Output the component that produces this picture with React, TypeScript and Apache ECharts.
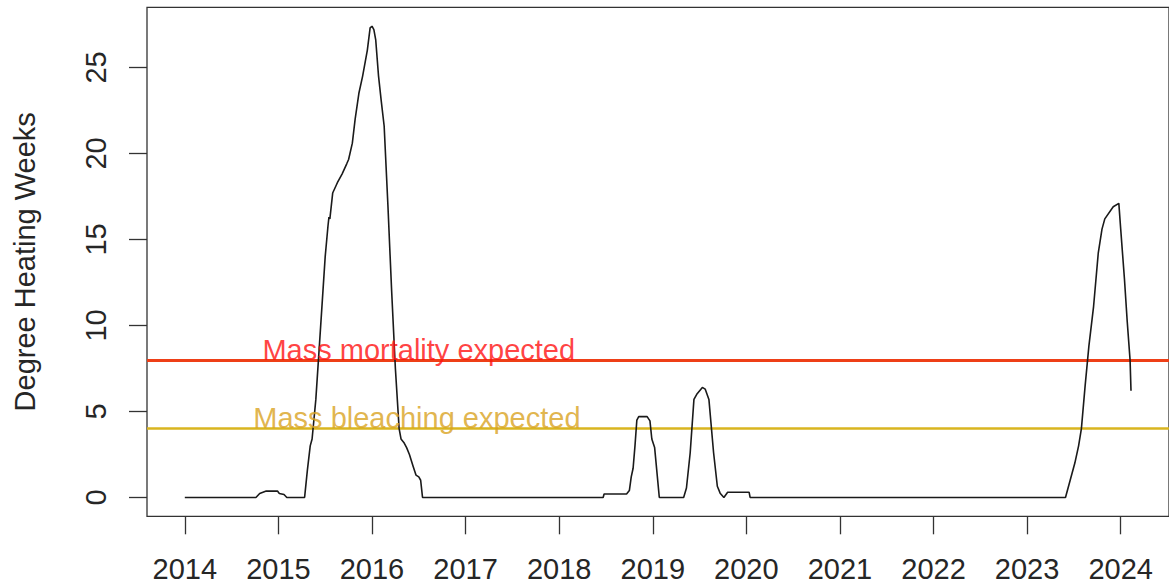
import React, { useEffect, useRef } from "react";
import * as echarts from "echarts";

const dhwYears = [
  2014.0, 2014.76, 2014.8, 2014.87, 2014.99, 2015.01, 2015.06, 2015.09, 2015.28, 2015.31,
  2015.34, 2015.36, 2015.4, 2015.44, 2015.47, 2015.5, 2015.53, 2015.54, 2015.55, 2015.58,
  2015.63, 2015.68, 2015.73, 2015.75, 2015.79, 2015.82, 2015.86, 2015.9, 2015.95, 2015.98,
  2016.0, 2016.02, 2016.04, 2016.07, 2016.1, 2016.13, 2016.17, 2016.21, 2016.25, 2016.29,
  2016.31, 2016.34, 2016.37, 2016.4, 2016.44, 2016.47, 2016.5, 2016.52, 2016.54, 2018.47,
  2018.48, 2018.72, 2018.75, 2018.77, 2018.79, 2018.81, 2018.83, 2018.85, 2018.94, 2018.97,
  2018.99, 2019.02, 2019.07, 2019.33, 2019.36, 2019.4, 2019.44, 2019.47, 2019.53, 2019.56,
  2019.6, 2019.65, 2019.69, 2019.72, 2019.76, 2019.8, 2020.03, 2020.04, 2023.41, 2023.46,
  2023.51, 2023.55, 2023.58, 2023.62, 2023.66, 2023.71, 2023.76, 2023.8, 2023.83, 2023.92,
  2023.98, 2024.0, 2024.04, 2024.07, 2024.1, 2024.11,
];
const dhwValues = [
  0, 0, 0.23, 0.37, 0.37, 0.23, 0.17, 0, 0, 1.6,
  3.0, 3.4, 5.7, 9.0, 11.5, 14.0, 15.8, 16.3, 16.2, 17.7,
  18.3, 18.8, 19.4, 19.65, 20.6, 22.0, 23.5, 24.5, 26.0, 27.3,
  27.4, 27.2, 26.6, 24.5, 23.0, 21.6, 17.0, 12.0, 7.5, 4.0,
  3.4, 3.2, 2.9, 2.5, 1.8, 1.3, 1.2, 1.0, 0, 0,
  0.2, 0.2, 0.4, 1.2, 1.7, 3.0, 4.5, 4.7, 4.7, 4.45,
  3.4, 2.9, 0, 0, 0.55, 2.6, 5.7, 6.0, 6.4, 6.3,
  5.7, 2.6, 0.65, 0.25, 0, 0.3, 0.3, 0, 0, 1.0,
  2.0, 3.0, 4.0, 6.5, 8.8, 11.1, 14.2, 15.6, 16.2, 16.9,
  17.1, 15.6, 12.7, 10.2, 8.0, 6.2,
];

const xTickYears = [2014, 2015, 2016, 2017, 2018, 2019, 2020, 2021, 2022, 2023, 2024];
const yTickValues = [0, 5, 10, 15, 20, 25];

const mortalityThreshold = 8;
const bleachingThreshold = 4;

const annotationX = [2016.5, 2016.48];
const annotationY = [8.58, 4.62];
const annotationText = ["Mass mortality expected", "Mass bleaching expected"];
const annotationColors = ["#ff1010", "#d9a21e"];

const FONT = "'Liberation Sans', Arial, Helvetica, sans-serif";

export default function App() {
  const ref = useRef<HTMLDivElement>(null);

  useEffect(() => {
    if (!ref.current) return;
    const chart = echarts.init(ref.current, undefined, { renderer: "svg" });

    const lineData = dhwYears.map((x, i) => [x, dhwValues[i]]);
    const annData = annotationX.map((x, i) => ({
      value: [x, annotationY[i]],
      label: {
        show: true,
        position: "inside",
        formatter: annotationText[i],
        color: annotationColors[i],
        fontSize: 29,
        fontFamily: FONT,
        align: "center",
        verticalAlign: "middle",
      },
    }));

    chart.setOption({
      animation: false,
      backgroundColor: "#ffffff",
      grid: {
        left: 147,
        top: 7.3,
        bottom: 71.7,
        right: -5.6,
        show: true,
        borderColor: "#333333",
        borderWidth: 1.3,
        backgroundColor: "transparent",
        containLabel: false,
      },
      xAxis: {
        type: "value",
        min: 2013.596,
        max: 2024.516,
        splitLine: { show: false },
        axisLine: { show: false, onZero: false },
        axisTick: {
          show: true,
          inside: false,
          length: 18,
          customValues: xTickYears,
          lineStyle: { color: "#333333", width: 1.3 },
        },
        axisLabel: {
          customValues: xTickYears,
          margin: 38,
          fontSize: 29,
          fontFamily: FONT,
          color: "#262626",
          formatter: (v: number) => String(Math.round(v)),
        },
      },
      yAxis: {
        type: "value",
        min: -1.096,
        max: 28.5,
        name: "Degree Heating Weeks",
        nameLocation: "middle",
        nameRotate: 90,
        nameGap: 108,
        nameTextStyle: { fontSize: 29, fontFamily: FONT, color: "#262626" },
        splitLine: { show: false },
        axisLine: { show: false, onZero: false },
        axisTick: {
          show: true,
          inside: false,
          length: 18,
          customValues: yTickValues,
          lineStyle: { color: "#333333", width: 1.3 },
        },
        axisLabel: {
          customValues: yTickValues,
          rotate: 90,
          margin: 37,
          fontSize: 29,
          fontFamily: FONT,
          color: "#262626",
          formatter: (v: number) => String(Math.round(v)),
        },
      },
      series: [
        {
          type: "line",
          data: lineData,
          showSymbol: false,
          symbol: "none",
          lineStyle: { color: "#1a1a1a", width: 1.6 },
          z: 5,
          markLine: {
            silent: true,
            symbol: ["none", "none"],
            label: { show: false },
            data: [
              { yAxis: mortalityThreshold, lineStyle: { color: "#ee3f17", width: 3, type: "solid" } },
              { yAxis: bleachingThreshold, lineStyle: { color: "#d9b51f", width: 2.6, type: "solid" } },
            ],
          },
        },
        {
          type: "scatter",
          data: annData,
          symbolSize: 0,
          silent: true,
          z: 6,
        },
      ],
    });

    return () => chart.dispose();
  }, []);

  return (
    <div
      ref={ref}
      style={{ position: "absolute", left: 0, top: 0, width: 1169, height: 588, background: "#fff" }}
    />
  );
}
